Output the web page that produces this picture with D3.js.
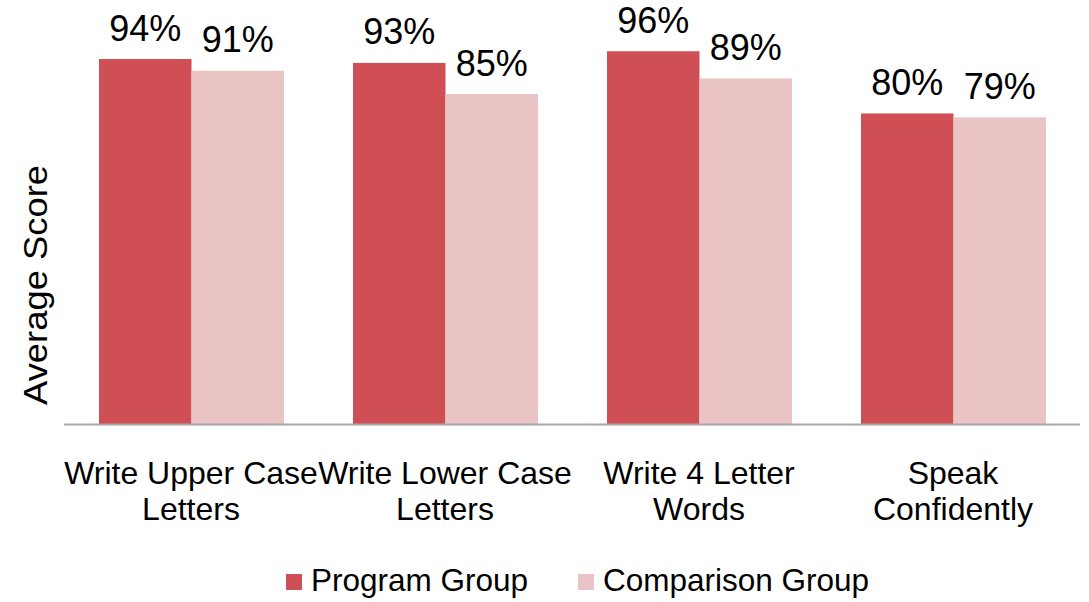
<!DOCTYPE html>
<html>
<head>
<meta charset="utf-8">
<script src="https://cdn.jsdelivr.net/npm/d3@7"></script>
<style>
  html, body { margin: 0; padding: 0; background: #fff; }
  svg { display: block; font-family: "Liberation Sans", Arial, sans-serif; }
</style>
</head>
<body>
<svg id="chart" width="1089" height="602"></svg>
<script>
const categories = ["Write Upper Case Letters", "Write Lower Case Letters", "Write 4 Letter Words", "Speak Confidently"];
const categoryLines = [["Write Upper Case", "Letters"], ["Write Lower Case", "Letters"], ["Write 4 Letter", "Words"], ["Speak", "Confidently"]];
const seriesNames = ["Program Group", "Comparison Group"];
const programValues = [0.94, 0.93, 0.96, 0.80];
const comparisonValues = [0.91, 0.85, 0.89, 0.79];
const colors = ["#cf4f55", "#eac4c5"];

const svg = d3.select("#chart");
const plotLeft = 64, plotRight = 1080, baseY = 424.5, topY = 35.7;

const x0 = d3.scaleBand().domain(categories).range([plotLeft, plotRight]).padding(0);
const x1 = d3.scaleBand().domain(seriesNames).range([35, 220]).padding(0);
const y = d3.scaleLinear().domain([0, 1]).range([baseY, topY]);

const data = categories.map((c, i) => ({
  cat: c,
  vals: [
    { s: seriesNames[0], v: programValues[i] },
    { s: seriesNames[1], v: comparisonValues[i] }
  ]
}));

const groups = svg.selectAll("g.grp").data(data).enter().append("g")
  .attr("class", "grp")
  .attr("transform", d => `translate(${x0(d.cat)},0)`);

groups.selectAll("rect").data(d => d.vals).enter().append("rect")
  .attr("x", d => x1(d.s))
  .attr("y", d => y(d.v))
  .attr("width", x1.bandwidth())
  .attr("height", d => y(0) - y(d.v))
  .attr("fill", (d, i) => colors[i]);

groups.selectAll("text.lbl").data(d => d.vals).enter().append("text")
  .attr("class", "lbl")
  .attr("x", d => x1(d.s) + x1.bandwidth() / 2)
  .attr("y", d => y(d.v) - 18.5)
  .attr("text-anchor", "middle")
  .attr("font-size", 36)
  .attr("fill", "#000")
  .text(d => d3.format(".0%")(d.v));

// axis line
svg.append("line")
  .attr("x1", plotLeft).attr("x2", plotRight)
  .attr("y1", baseY).attr("y2", baseY)
  .attr("stroke", "#a6a6a6").attr("stroke-width", 2);

// category labels
categories.forEach((c, i) => {
  const t = svg.append("text")
    .attr("x", x0(c) + x0.bandwidth() / 2)
    .attr("y", 484)
    .attr("text-anchor", "middle")
    .attr("font-size", 32)
    .attr("fill", "#000");
  categoryLines[i].forEach((line, j) => {
    t.append("tspan")
      .attr("x", x0(c) + x0.bandwidth() / 2)
      .attr("dy", j === 0 ? 0 : 36)
      .text(line);
  });
});

// y axis title
svg.append("text")
  .attr("transform", "translate(47,285) rotate(-90)")
  .attr("text-anchor", "middle")
  .attr("font-size", 33)
  .attr("textLength", 240)
  .attr("lengthAdjust", "spacingAndGlyphs")
  .attr("fill", "#000")
  .text("Average Score");

// legend
const legendX = [286, 578];
seriesNames.forEach((s, i) => {
  svg.append("rect")
    .attr("x", legendX[i]).attr("y", 574)
    .attr("width", 16).attr("height", 16)
    .attr("fill", colors[i]);
  svg.append("text")
    .attr("x", legendX[i] + 25).attr("y", 591)
    .attr("font-size", 31.5)
    .attr("fill", "#000")
    .text(s);
});
</script>
</body>
</html>
